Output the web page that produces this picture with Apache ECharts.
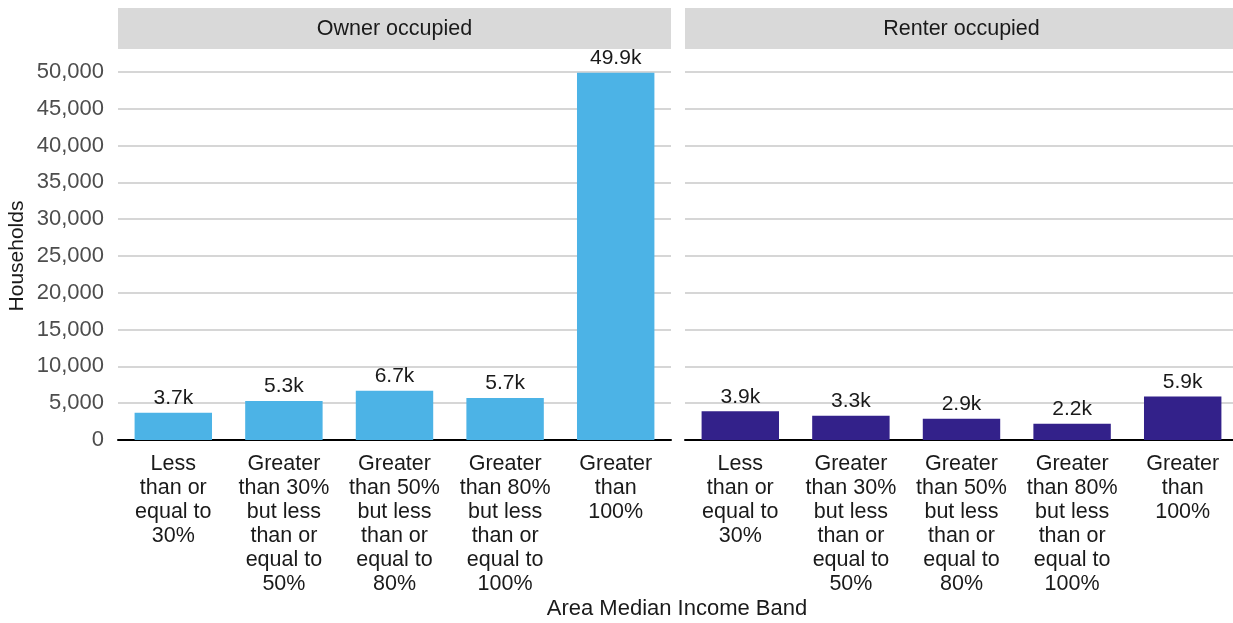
<!DOCTYPE html>
<html><head><meta charset="utf-8">
<script src="https://cdn.jsdelivr.net/npm/echarts@6/dist/echarts.min.js"></script>
<style>html,body{margin:0;padding:0;background:#fff}#c{width:1233px;height:623px}</style>
</head><body><div id="c"></div>
<script>
const categories = [
  'Less\nthan or\nequal to\n30%',
  'Greater\nthan 30%\nbut less\nthan or\nequal to\n50%',
  'Greater\nthan 50%\nbut less\nthan or\nequal to\n80%',
  'Greater\nthan 80%\nbut less\nthan or\nequal to\n100%',
  'Greater\nthan\n100%'
];
const panels = ['Owner occupied', 'Renter occupied'];
const ownerValues = [3700, 5300, 6700, 5700, 49900];
const renterValues = [3900, 3300, 2900, 2200, 5900];
const yTicks = { min: 0, max: 50000, interval: 5000 };

const FONT = 'Liberation Sans, Arial, sans-serif';
const G = [{left:118, width:553}, {left:685, width:553}];
const TOP = 72, HEIGHT = 368;

const chart = echarts.init(document.getElementById('c'), null, {renderer:'canvas'});
const fmtK = p => (p.value/1000).toFixed(1) + 'k';
function xAxis(i){
  return {type:'category', gridIndex:i, data:categories,
    axisLine:{show:true, lineStyle:{color:'#000', width:2}},
    axisTick:{show:false},
    axisLabel:{color:'#1a1a1a', fontSize:21.5, fontFamily:FONT, lineHeight:24, margin:12, interval:0, align:'center'}};
}
function yAxis(i){
  return {type:'value', gridIndex:i, min:yTicks.min, max:yTicks.max, interval:yTicks.interval,
    axisLine:{show:false}, axisTick:{show:false},
    splitLine:{show:true, lineStyle:{color:'#d6d6d6', width:2}},
    axisLabel:{show:i===0, color:'#4d4d4d', fontSize:22, fontFamily:FONT, margin:14,
      formatter: v => v.toLocaleString('en-US')},
    name: i===0 ? 'Households' : '', nameLocation:'middle', nameGap:90, nameRotate:90,
    nameTextStyle:{color:'#1a1a1a', fontSize:21, fontFamily:FONT}};
}
function series(i, data, color){
  return {type:'bar', xAxisIndex:i, yAxisIndex:i, data:data, barCategoryGap:'30%',
    itemStyle:{color:color},
    label:{show:true, position:'top', distance:4, color:'#1a1a1a', fontSize:21, fontFamily:FONT, formatter:fmtK}};
}
const graphics = [];
G.forEach((g,i)=>{
  graphics.push({type:'rect', shape:{x:g.left, y:8, width:g.width, height:41}, style:{fill:'#d9d9d9'}, z:0});
  graphics.push({type:'text', x:g.left+g.width/2, y:29, style:{text:panels[i], fill:'#1a1a1a', font:'21.5px '+FONT, textAlign:'center', textVerticalAlign:'middle'}, z:1});
});
graphics.push({type:'text', x:677, y:609, style:{text:'Area Median Income Band', fill:'#1a1a1a', font:'22px '+FONT, textAlign:'center', textVerticalAlign:'middle'}});

chart.setOption({
  animation:false,
  backgroundColor:'#fff',
  grid: G.map(g=>({left:g.left, width:g.width, top:TOP, height:HEIGHT, containLabel:false, outerBoundsMode:'none'})),
  xAxis:[xAxis(0), xAxis(1)],
  yAxis:[yAxis(0), yAxis(1)],
  series:[series(0, ownerValues, '#4cb3e6'), series(1, renterValues, '#33218a')],
  graphic: graphics
});
</script></body></html>
